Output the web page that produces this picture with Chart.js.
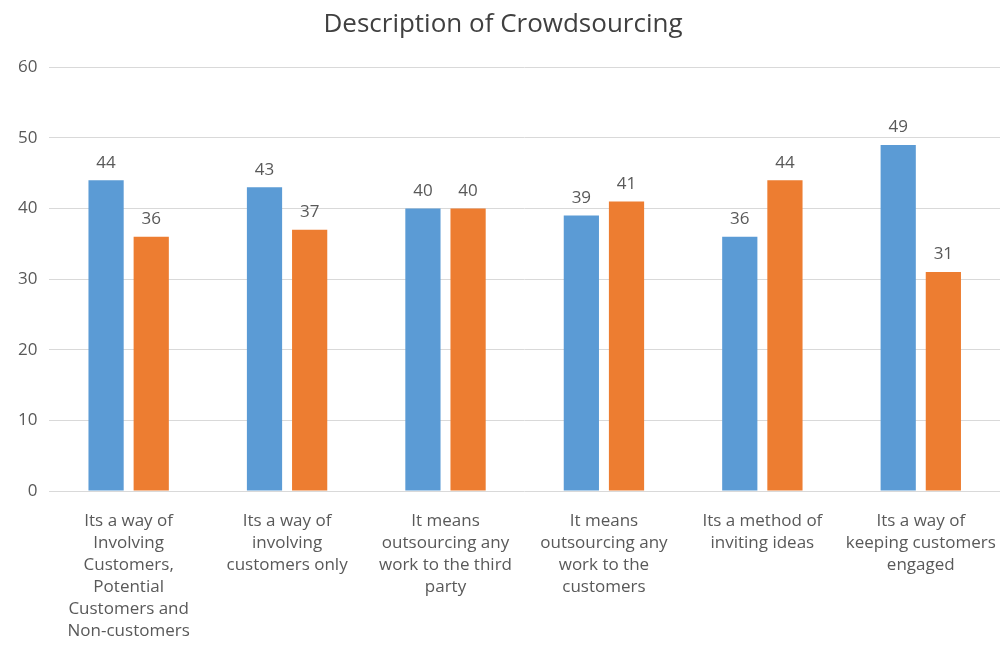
<!DOCTYPE html>
<html>
<head>
<meta charset="utf-8">
<script src="https://cdn.jsdelivr.net/npm/chart.js@4"></script>
<style>
  html, body { margin: 0; padding: 0; background: #fff; }
  #wrap { width: 1002px; height: 648px; }
</style>
</head>
<body>
<div id="wrap"><canvas id="g_crowd"></canvas></div>
<script>
const categories = [
    ["Its a way of", "Involving", "Customers,", "Potential", "Customers and", "Non-customers"],
    ["Its a way of", "involving", "customers only"],
    ["It means", "outsourcing any", "work to the third", "party"],
    ["It means", "outsourcing any", "work to the", "customers"],
    ["Its a method of", "inviting ideas"],
    ["Its a way of", "keeping customers", "engaged"]
];
const seriesBlue = [44, 43, 40, 39, 36, 49];
const seriesOrange = [36, 37, 40, 41, 44, 31];
const yTicks = [0, 10, 20, 30, 40, 50, 60];

const FONT = "'Open Sans', sans-serif";

// draws the value above each bar
const barValues = {
    id: 'barValues',
    afterDatasetsDraw(chart) {
        const ctx = chart.ctx;
        ctx.save();
        ctx.font = "17px " + FONT;
        ctx.fillStyle = "#595959";
        ctx.textAlign = "center";
        ctx.textBaseline = "bottom";
        chart.data.datasets.forEach(function(ds, i) {
            chart.getDatasetMeta(i).data.forEach(function(bar, j) {
                ctx.fillText(ds.data[j], bar.x, bar.y - 9);
            });
        });
        ctx.restore();
    }
};

function drawChart() {
    const ctx = document.getElementById("g_crowd").getContext("2d");
    let conData = {
        labels: categories,
        datasets: [{
            label: "Series1",
            backgroundColor: "#5b9bd5",
            data: seriesBlue
        }, {
            label: "Series2",
            backgroundColor: "#ed7d31",
            data: seriesOrange
        }]
    };
    let options = {
        responsive: true,
        maintainAspectRatio: false,
        animation: false,
        layout: { padding: { left: 6, right: 2, top: 9, bottom: 0 } },
        datasets: {
            bar: { categoryPercentage: 0.57, barPercentage: 0.78 }
        },
        plugins: {
            legend: { display: false },
            tooltip: { enabled: false },
            title: {
                display: true,
                text: "Description of Crowdsourcing",
                color: "#404040",
                font: { family: FONT, size: 26, weight: "normal" },
                padding: { top: 0, bottom: 27 }
            }
        },
        scales: {
            x: {
                grid: { display: false, drawTicks: false },
                border: { display: false },
                ticks: {
                    color: "#595959",
                    font: { family: FONT, size: 17, lineHeight: 1.3 },
                    maxRotation: 0,
                    autoSkip: false,
                    padding: 19
                },
                // labels may spill past the last category, like the original
                afterFit: function(scale) {
                    scale.height = 157;
                    scale.paddingLeft = 0;
                    scale.paddingRight = 0;
                }
            },
            y: {
                min: 0,
                max: 60,
                afterBuildTicks: function(axis) {
                    axis.ticks = yTicks.map(function(v) { return { value: v }; });
                },
                grid: { color: "#d9d9d9", drawTicks: false },
                border: { display: false },
                ticks: {
                    color: "#595959",
                    font: { family: FONT, size: 17 },
                    padding: 12
                }
            }
        }
    };
    new Chart(ctx, {
        type: "bar",
        data: conData,
        options: options,
        plugins: [barValues]
    });
}

window.addEventListener('load', () => {
    drawChart();
});
</script>
</body>
</html>
